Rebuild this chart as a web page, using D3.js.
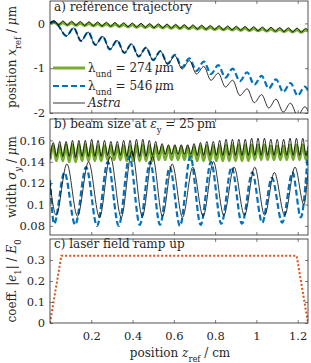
<!DOCTYPE html>
<html>
<head>
<meta charset="utf-8">
<script src="https://cdn.jsdelivr.net/npm/d3@7"></script>
<style>
  body { margin: 0; background: #fff; }
  svg { display: block; }
  text { font-family: "DejaVu Serif", serif; fill: #262626; }
</style>
</head>
<body>
<svg width="311" height="363"></svg>
<script>
// ---- data ----
// panel a) reference trajectory, lambda_und = 274 um family (extrema positions in cm)
const zA274 = [0,0.021,0.042,0.063,0.084,0.105,0.126,0.147,0.168,0.189,0.21,0.231,0.252,0.273,0.294,0.315,0.336,0.357,0.378,0.399,0.42,0.441,0.462,0.483,0.504,0.525,0.546,0.567,0.588,0.609,0.63,0.651,0.672,0.693,0.714,0.735,0.756,0.777,0.798,0.819,0.84,0.861,0.882,0.903,0.924,0.945,0.966,0.987,1.008,1.029,1.05,1.071,1.092,1.113,1.134,1.155,1.176,1.197,1.218,1.239,1.25];
const trajGreen = [0,.022,-.031,.016,-.037,.010,-.043,.004,-.049,-.001,-.054,-.007,-.060,-.013,-.066,-.019,-.072,-.025,-.078,-.031,-.084,-.037,-.090,-.043,-.096,-.049,-.101,-.054,-.107,-.060,-.113,-.066,-.119,-.072,-.125,-.078,-.131,-.084,-.137,-.090,-.143,-.096,-.148,-.101,-.154,-.107,-.160,-.113,-.166,-.119,-.172,-.125,-.178,-.131,-.184,-.137,-.190,-.143,-.196,-.148,-.175];
const trajAstra274 = [0,.062,-.031,.056,-.037,.050,-.043,.044,-.049,.039,-.054,.033,-.060,.027,-.066,.021,-.072,.015,-.078,.009,-.084,.003,-.090,-.003,-.096,-.009,-.101,-.014,-.107,-.020,-.113,-.026,-.119,-.032,-.125,-.038,-.131,-.044,-.137,-.050,-.143,-.056,-.148,-.061,-.154,-.067,-.160,-.073,-.166,-.079,-.172,-.085,-.178,-.091,-.184,-.097,-.190,-.103,-.196,-.108,-.16];
// lambda_und = 546 um family: [z, x_ref]
const trajBlue = [[0,0],[0.015,0.04],[0.035,-0.02],[0.08,-0.28],[0.115,-0.10],[0.15,-0.39],[0.185,-0.195],[0.22,-0.48],[0.255,-0.29],[0.29,-0.58],[0.325,-0.38],[0.36,-0.66],[0.395,-0.46],[0.43,-0.74],[0.465,-0.54],[0.5,-0.82],[0.535,-0.62],[0.57,-0.9],[0.605,-0.7],[0.64,-0.98],[0.675,-0.78],[0.71,-1.06],[0.745,-0.85],[0.78,-1.13],[0.815,-0.93],[0.85,-1.21],[0.885,-1.01],[0.92,-1.29],[0.955,-1.09],[0.99,-1.37],[1.025,-1.17],[1.06,-1.45],[1.095,-1.25],[1.13,-1.53],[1.165,-1.33],[1.2,-1.61],[1.235,-1.41],[1.25,-1.5]];
const trajAstra546 = [[0,0],[0.015,0.04],[0.035,-0.02],[0.08,-0.28],[0.115,-0.10],[0.15,-0.39],[0.185,-0.195],[0.22,-0.48],[0.255,-0.29],[0.29,-0.58],[0.325,-0.38],[0.36,-0.66],[0.395,-0.46],[0.43,-0.74],[0.465,-0.54],[0.5,-0.82],[0.535,-0.62],[0.57,-0.91],[0.605,-0.72],[0.64,-1.02],[0.675,-0.83],[0.71,-1.13],[0.745,-0.96],[0.78,-1.27],[0.815,-1.11],[0.85,-1.42],[0.885,-1.27],[0.92,-1.61],[0.955,-1.46],[0.99,-1.77],[1.025,-1.59],[1.06,-1.89],[1.095,-1.69],[1.13,-1.98],[1.165,-1.78],[1.2,-2.06],[1.235,-1.86],[1.25,-1.95]];

// panel b) beam size, 274 um family
const zB274 = [0,0.016,0.031,0.047,0.062,0.078,0.093,0.109,0.124,0.14,0.155,0.171,0.186,0.202,0.217,0.233,0.248,0.264,0.279,0.295,0.31,0.326,0.341,0.357,0.372,0.388,0.403,0.419,0.434,0.45,0.465,0.481,0.496,0.512,0.527,0.543,0.558,0.574,0.589,0.605,0.62,0.636,0.651,0.667,0.682,0.698,0.713,0.729,0.744,0.76,0.775,0.791,0.806,0.822,0.837,0.853,0.868,0.884,0.899,0.915,0.93,0.946,0.961,0.977,0.992,1.008,1.023,1.039,1.054,1.07,1.085,1.101,1.116,1.132,1.147,1.163,1.178,1.194,1.209,1.225,1.24,1.25];
const sizeGreen = [0.142,0.155,0.141,0.155,0.141,0.156,0.140,0.156,0.140,0.156,
  0.141,0.156,0.141,0.156,0.141,0.155,0.141,0.155,0.142,0.155,
  0.142,0.155,0.142,0.155,0.141,0.155,0.141,0.156,0.141,0.156,
  0.141,0.155,0.141,0.155,0.142,0.154,0.142,0.154,0.142,0.154,
  0.142,0.154,0.142,0.154,0.142,0.154,0.141,0.155,0.141,0.155,
  0.141,0.155,0.141,0.155,0.141,0.156,0.141,0.156,0.141,0.156,
  0.141,0.156,0.141,0.156,0.142,0.156,0.142,0.156,0.142,0.155,
  0.142,0.155,0.142,0.155,0.142,0.156,0.142,0.156,0.142,0.156,
  0.142,0.150];
const sizeAstra274 = [0.143,0.158,0.145,0.159,0.145,0.159,0.145,0.160,0.144,0.160,
  0.145,0.160,0.145,0.161,0.145,0.160,0.145,0.160,0.146,0.159,
  0.146,0.159,0.146,0.160,0.145,0.160,0.145,0.161,0.145,0.161,
  0.145,0.160,0.146,0.159,0.147,0.157,0.147,0.156,0.147,0.156,
  0.147,0.156,0.147,0.156,0.147,0.157,0.146,0.158,0.146,0.159,
  0.146,0.159,0.146,0.160,0.146,0.161,0.146,0.161,0.146,0.161,
  0.146,0.161,0.146,0.162,0.146,0.162,0.146,0.162,0.146,0.161,
  0.146,0.161,0.146,0.161,0.146,0.162,0.146,0.162,0.146,0.162,
  0.146,0.155];
// 546 um family: [z, sigma_y]
const sizeBlue = [[0,0.123],[0.02,0.082],[0.07,0.13],[0.122,0.081],[0.175,0.135],[0.228,0.08],[0.28,0.14],[0.333,0.08],[0.385,0.145],[0.435,0.081],[0.485,0.14],[0.533,0.081],[0.58,0.135],[0.63,0.08],[0.68,0.145],[0.73,0.081],[0.78,0.14],[0.83,0.082],[0.88,0.135],[0.93,0.082],[0.98,0.13],[1.028,0.083],[1.075,0.125],[1.125,0.083],[1.175,0.13],[1.215,0.088],[1.25,0.15]];
const sizeAstra546 = [[0,0.12],[0.03,0.09],[0.082,0.138],[0.133,0.089],[0.187,0.14],[0.24,0.088],[0.292,0.145],[0.345,0.088],[0.397,0.15],[0.447,0.089],[0.497,0.145],[0.545,0.089],[0.592,0.138],[0.642,0.088],[0.692,0.135],[0.742,0.089],[0.792,0.14],[0.842,0.09],[0.892,0.135],[0.942,0.09],[0.992,0.135],[1.04,0.09],[1.087,0.13],[1.137,0.09],[1.187,0.135],[1.23,0.1],[1.25,0.13]];

// panel c) laser field ramp: [z, |e1|/E0]
const ramp = [[0,0],[0.055,0.32],[1.195,0.32],[1.25,0]];

// ticks
const xTicks = [0.2, 0.4, 0.6, 0.8, 1, 1.2];
const yTicksA = [-2, -1, 0];
const yTicksB = [0.08, 0.1, 0.12, 0.14, 0.16];
const yTicksC = [0, 0.1, 0.2, 0.3];

// ---- drawing ----
const green = "#77AC30", blue = "#0072BD", orange = "#D95319", axisCol = "#262626";
const left = 50, right = 308;
const fs = "12px", tickFs = "11.5px";
const svg = d3.select("svg");

const x = d3.scaleLinear().domain([0, 1.25]).range([left, right]);

// write a string made of plain / italic / subscript pieces
function rich(sel, parts) {
  parts.forEach(p => {
    const t = sel.append("tspan").text(p.t);
    if (p.it) t.style("font-style", "italic");
    if (p.sub) t.attr("baseline-shift", "sub").style("font-size", "70%");
  });
  return sel;
}

function panel(id, top, bottom, domain, ticks, showX) {
  const y = d3.scaleLinear().domain(domain).range([bottom, top]);
  const g = svg.append("g");

  g.append("clipPath").attr("id", "clip" + id)
    .append("rect").attr("x", left).attr("y", top)
    .attr("width", right - left).attr("height", bottom - top);

  const plot = g.append("g").attr("clip-path", `url(#clip${id})`);

  // inward ticks on all four sides
  const fmt = d => String(d);
  g.append("g").attr("transform", `translate(${left},0)`)
    .call(d3.axisLeft(y).tickValues(ticks).tickSize(-3).tickPadding(5).tickFormat(fmt))
    .call(a => a.select(".domain").remove());
  g.append("g").attr("transform", `translate(${right},0)`)
    .call(d3.axisRight(y).tickValues(ticks).tickSize(-3).tickFormat(""))
    .call(a => a.select(".domain").remove());
  g.append("g").attr("transform", `translate(0,${top})`)
    .call(d3.axisTop(x).tickValues(xTicks).tickSize(-3).tickFormat(""))
    .call(a => a.select(".domain").remove());
  g.append("g").attr("transform", `translate(0,${bottom})`)
    .call(d3.axisBottom(x).tickValues(xTicks).tickSize(-3).tickPadding(9)
      .tickFormat(showX ? fmt : ""))
    .call(a => a.select(".domain").remove());

  g.selectAll(".tick line").attr("stroke", axisCol).attr("stroke-width", 0.6);
  g.selectAll(".tick text").style("font-size", tickFs)
    .style("font-family", "'DejaVu Serif', serif").attr("fill", axisCol);

  g.append("rect").attr("x", left).attr("y", top)
    .attr("width", right - left).attr("height", bottom - top)
    .attr("fill", "none").attr("stroke", axisCol).attr("stroke-width", 0.8);

  return { y, plot, g };
}

const lineOsc = y => d3.line().x(d => x(d[0])).y(d => y(d[1])).curve(d3.curveMonotoneX);
const zip = (zs, vs) => zs.map((z, i) => [z, vs[i]]).filter(d => d[1] !== undefined);

// panel a
const pa = panel("a", 1, 113, [-2, 0.5], yTicksA, false);
pa.plot.append("path").datum(zip(zA274, trajGreen))
  .attr("fill", "none").attr("stroke", green).attr("stroke-width", 3).attr("d", lineOsc(pa.y));
pa.plot.append("path").datum(trajBlue)
  .attr("fill", "none").attr("stroke", blue).attr("stroke-width", 2.2)
  .attr("stroke-dasharray", "6,3").attr("d", lineOsc(pa.y));
pa.plot.append("path").datum(zip(zA274, trajAstra274))
  .attr("fill", "none").attr("stroke", "#000").attr("stroke-width", 0.8).attr("d", lineOsc(pa.y));
pa.plot.append("path").datum(trajAstra546)
  .attr("fill", "none").attr("stroke", "#000").attr("stroke-width", 0.8).attr("d", lineOsc(pa.y));

// panel b
const pb = panel("b", 119, 235, [0.0715, 0.18], yTicksB, false);
pb.plot.append("path").datum(zip(zB274, sizeGreen))
  .attr("fill", "none").attr("stroke", green).attr("stroke-width", 3).attr("d", lineOsc(pb.y));
pb.plot.append("path").datum(sizeBlue)
  .attr("fill", "none").attr("stroke", blue).attr("stroke-width", 2.2)
  .attr("stroke-dasharray", "6,3").attr("d", lineOsc(pb.y));
pb.plot.append("path").datum(zip(zB274, sizeAstra274))
  .attr("fill", "none").attr("stroke", "#000").attr("stroke-width", 0.8).attr("d", lineOsc(pb.y));
pb.plot.append("path").datum(sizeAstra546)
  .attr("fill", "none").attr("stroke", "#000").attr("stroke-width", 0.8).attr("d", lineOsc(pb.y));

// panel c
const pc = panel("c", 239, 323, [0, 0.4], yTicksC, true);
pc.plot.append("path").datum(ramp)
  .attr("fill", "none").attr("stroke", orange).attr("stroke-width", 2)
  .attr("stroke-dasharray", "2,2")
  .attr("d", d3.line().x(d => x(d[0])).y(d => pc.y(d[1])));

// panel titles
rich(svg.append("text").attr("x", 54).attr("y", 11).style("font-size", fs),
  [{ t: "a) reference trajectory" }]);
rich(svg.append("text").attr("x", 54).attr("y", 128).style("font-size", fs),
  [{ t: "b) beam size at " }, { t: "ε", it: true }, { t: "y", sub: true }, { t: " = 25\u2009pm" }]);
rich(svg.append("text").attr("x", 54).attr("y", 248).style("font-size", fs),
  [{ t: "c) laser field ramp up" }]);

// legend in panel a
const legend = [
  { y: 68, color: green, w: 3, dash: null, parts: [{ t: "λ" }, { t: "und", sub: true }, { t: " = 274\u2009" }, { t: "μ", it: true }, { t: "m" }] },
  { y: 86, color: blue, w: 2.2, dash: "6,3", parts: [{ t: "λ" }, { t: "und", sub: true }, { t: " = 546\u2009" }, { t: "μ", it: true }, { t: "m" }] },
  { y: 103, color: "#000", w: 0.8, dash: null, parts: [{ t: "Astra", it: true }] }
];
legend.forEach(l => {
  svg.append("line").attr("x1", 53).attr("x2", 85).attr("y1", l.y).attr("y2", l.y)
    .attr("stroke", l.color).attr("stroke-width", l.w).attr("stroke-dasharray", l.dash);
  rich(svg.append("text").attr("x", 88).attr("y", l.y + 4).style("font-size", fs), l.parts);
});

// axis titles
function yTitle(cy, parts) {
  rich(svg.append("text").attr("transform", `translate(16,${cy}) rotate(-90)`)
    .attr("text-anchor", "middle").style("font-size", fs), parts);
}
yTitle(57, [{ t: "position " }, { t: "x", it: true }, { t: "ref", sub: true }, { t: " / " }, { t: "μ", it: true }, { t: "m" }]);
yTitle(177, [{ t: "width " }, { t: "σ", it: true }, { t: "y", it: true, sub: true }, { t: " / " }, { t: "μ", it: true }, { t: "m" }]);
yTitle(281, [{ t: "coeff. |" }, { t: "e", it: true }, { t: "1", sub: true }, { t: "| / " }, { t: "E", it: true }, { t: "0", sub: true }]);

rich(svg.append("text").attr("x", 180).attr("y", 357).attr("text-anchor", "middle").style("font-size", fs),
  [{ t: "position " }, { t: "z", it: true }, { t: "ref", sub: true }, { t: " / cm" }]);
</script>
</body>
</html>
